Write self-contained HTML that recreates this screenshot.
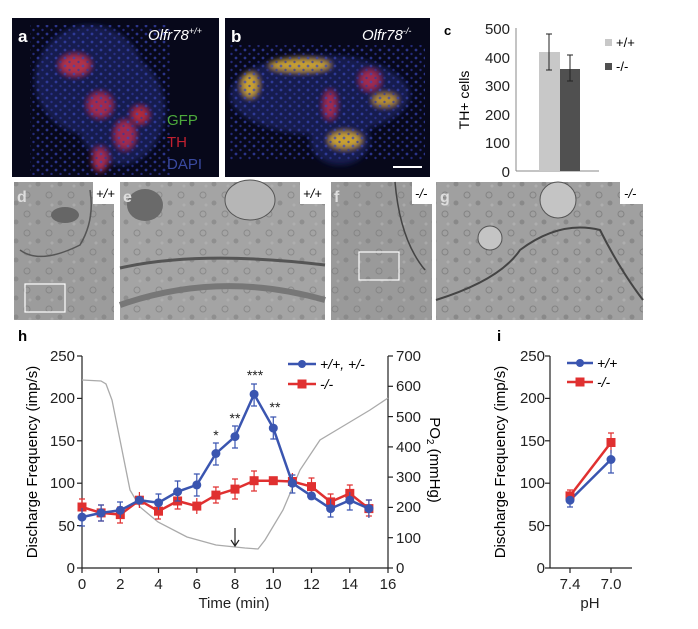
<!DOCTYPE html>
<html><head><meta charset="utf-8"><style>
html,body{margin:0;padding:0;background:#fff;}
svg{display:block;font-family:"Liberation Sans",Arial,sans-serif;}
</style></head><body>
<svg width="698" height="629" viewBox="0 0 698 629" xmlns="http://www.w3.org/2000/svg">
<defs>
<pattern id="dots" width="9" height="8" patternUnits="userSpaceOnUse">
<circle cx="2" cy="2" r="1.4" fill="#3a47b8"/><circle cx="6.5" cy="6" r="1.2" fill="#3038a0"/>
</pattern>
<pattern id="em" width="22" height="19" patternUnits="userSpaceOnUse">
<circle cx="5" cy="5" r="3" fill="none" stroke="#707070" stroke-width="1"/>
<circle cx="16" cy="13" r="2.5" fill="#7a7a7a"/>
<circle cx="8" cy="15" r="1.5" fill="#b8b8b8"/>
</pattern>
<filter id="bl"><feGaussianBlur stdDeviation="3"/></filter>
</defs>
<!-- panel a -->
<rect x="12" y="18" width="207" height="159" fill="#07081a"/>
<g filter="url(#bl)">
<ellipse cx="90" cy="80" rx="55" ry="55" fill="#141a50"/>
<ellipse cx="120" cy="110" rx="45" ry="55" fill="#141a50"/>
<ellipse cx="75" cy="65" rx="15" ry="10" fill="#b0304a"/>
<ellipse cx="100" cy="105" rx="12" ry="12" fill="#a02c50"/>
<ellipse cx="125" cy="135" rx="10" ry="14" fill="#a02c50"/>
<ellipse cx="100" cy="160" rx="8" ry="12" fill="#a02c50"/>
<ellipse cx="140" cy="115" rx="8" ry="8" fill="#b02a3a"/>
</g>
<rect x="30" y="25" width="140" height="150" fill="url(#dots)" opacity="0.7"/>
<text x="18" y="42" font-size="17" font-weight="bold" fill="#fff">a</text>
<text x="148" y="40" font-size="15" font-style="italic" fill="#fff">Olfr78<tspan font-size="9" dy="-6">+/+</tspan></text>
<text x="167" y="125" font-size="15" fill="#4caa3c">GFP</text>
<text x="167" y="147" font-size="15" fill="#c02030">TH</text>
<text x="167" y="169" font-size="15" fill="#3a4aa0">DAPI</text>
<!-- panel b -->
<rect x="225" y="18" width="205" height="159" fill="#07081a"/>
<g filter="url(#bl)">
<ellipse cx="320" cy="95" rx="90" ry="40" fill="#141a50"/>
<ellipse cx="340" cy="140" rx="30" ry="25" fill="#141a50"/>
<ellipse cx="300" cy="65" rx="30" ry="6" fill="#c8a030"/>
<ellipse cx="250" cy="85" rx="8" ry="12" fill="#c8a030"/>
<ellipse cx="345" cy="140" rx="16" ry="8" fill="#c8a030"/>
<ellipse cx="385" cy="100" rx="12" ry="6" fill="#b89030"/>
<ellipse cx="370" cy="80" rx="10" ry="10" fill="#a02c50"/>
<ellipse cx="330" cy="105" rx="6" ry="14" fill="#a02c50"/>
</g>
<rect x="230" y="45" width="195" height="115" fill="url(#dots)" opacity="0.7"/>
<line x1="393" y1="167" x2="422" y2="167" stroke="#fff" stroke-width="2"/>
<text x="231" y="42" font-size="17" font-weight="bold" fill="#fff">b</text>
<text x="362" y="40" font-size="15" font-style="italic" fill="#fff">Olfr78<tspan font-size="9" dy="-6">-/-</tspan></text>
<!-- panel c -->
<text x="444" y="35" font-size="13" font-weight="bold">c</text>
<line x1="516" y1="28" x2="516" y2="171" stroke="#888" stroke-width="1"/>
<line x1="516" y1="171" x2="599" y2="171" stroke="#888" stroke-width="1"/>
<g font-size="15" fill="#222" text-anchor="end">
<text x="510" y="34">500</text><text x="510" y="63">400</text><text x="510" y="91">300</text>
<text x="510" y="120">200</text><text x="510" y="148">100</text><text x="510" y="177">0</text>
</g>
<text transform="translate(469,100) rotate(-90)" font-size="14" text-anchor="middle">TH+ cells</text>
<rect x="539" y="52" width="21" height="119" fill="#c8c8c8"/>
<rect x="560" y="69" width="20" height="102" fill="#505050"/>
<g stroke="#222" stroke-width="1">
<line x1="549" y1="34" x2="549" y2="70"/><line x1="546" y1="34" x2="552" y2="34"/><line x1="546" y1="70" x2="552" y2="70"/>
<line x1="570" y1="55" x2="570" y2="81"/><line x1="567" y1="55" x2="573" y2="55"/><line x1="567" y1="81" x2="573" y2="81"/>
</g>
<rect x="605" y="39" width="7" height="7" fill="#c8c8c8"/><text x="616" y="47" font-size="13">+/+</text>
<rect x="605" y="63" width="7" height="7" fill="#505050"/><text x="616" y="71" font-size="13">-/-</text>
<!-- EM panels -->
<g>
<rect x="14" y="182" width="100" height="138" fill="#9c9c9c"/>
<rect x="120" y="182" width="205" height="138" fill="#a4a4a4"/>
<rect x="331" y="182" width="101" height="138" fill="#9a9a9a"/>
<rect x="436" y="182" width="207" height="138" fill="#a0a0a0"/>
<rect x="14" y="182" width="100" height="138" fill="url(#em)" opacity="0.5"/>
<rect x="120" y="182" width="205" height="138" fill="url(#em)" opacity="0.5"/>
<rect x="331" y="182" width="101" height="138" fill="url(#em)" opacity="0.5"/>
<rect x="436" y="182" width="207" height="138" fill="url(#em)" opacity="0.6"/>
<path d="M20,250 Q40,265 80,245 Q95,220 90,190" fill="none" stroke="#555" stroke-width="1.5"/>
<ellipse cx="65" cy="215" rx="14" ry="8" fill="#666"/>
<rect x="25" y="284" width="40" height="28" fill="none" stroke="#fff" stroke-width="1.2"/>
<ellipse cx="145" cy="205" rx="18" ry="16" fill="#6a6a6a"/>
<ellipse cx="250" cy="200" rx="25" ry="20" fill="#b6b6b6" stroke="#555"/>
<path d="M120,268 Q200,250 325,265" fill="none" stroke="#555" stroke-width="3"/>
<path d="M120,305 Q220,270 325,300" fill="none" stroke="#777" stroke-width="6"/>
<path d="M395,182 Q400,240 425,270" fill="none" stroke="#444" stroke-width="1.5"/>
<rect x="359" y="252" width="40" height="28" fill="none" stroke="#fff" stroke-width="1.2"/>
<path d="M436,300 Q500,280 520,250 Q560,220 600,230 Q620,270 643,300" fill="none" stroke="#444" stroke-width="2"/>
<circle cx="558" cy="200" r="18" fill="#c4c4c4" stroke="#555"/>
<circle cx="490" cy="238" r="12" fill="#c4c4c4" stroke="#555"/>
<rect x="93" y="182" width="21" height="22" fill="#fff"/><text x="96" y="198" font-size="13" font-style="italic">+/+</text>
<rect x="300" y="182" width="25" height="22" fill="#fff"/><text x="303" y="198" font-size="13" font-style="italic">+/+</text>
<rect x="412" y="182" width="20" height="22" fill="#fff"/><text x="415" y="198" font-size="13" font-style="italic">-/-</text>
<rect x="620" y="182" width="23" height="22" fill="#fff"/><text x="624" y="198" font-size="13" font-style="italic">-/-</text>
<text x="17" y="202" font-size="16" font-weight="bold" fill="#ddd">d</text>
<text x="123" y="202" font-size="16" font-weight="bold" fill="#ddd">e</text>
<text x="334" y="202" font-size="16" font-weight="bold" fill="#ddd">f</text>
<text x="440" y="202" font-size="16" font-weight="bold" fill="#ddd">g</text>
</g>
<!-- panel h -->
<text x="18" y="341" font-size="15" font-weight="bold">h</text>
<g stroke="#222" stroke-width="1.2" fill="none">
<line x1="82" y1="356" x2="82" y2="568"/><line x1="82" y1="568" x2="388" y2="568"/><line x1="388" y1="356" x2="388" y2="568"/>
</g>
<g stroke="#222" stroke-width="1.2">
<line x1="77" y1="356" x2="82" y2="356"/><line x1="77" y1="398.4" x2="82" y2="398.4"/><line x1="77" y1="440.8" x2="82" y2="440.8"/><line x1="77" y1="483.2" x2="82" y2="483.2"/><line x1="77" y1="525.6" x2="82" y2="525.6"/><line x1="77" y1="568" x2="82" y2="568"/>
<line x1="388" y1="356" x2="393" y2="356"/><line x1="388" y1="386.3" x2="393" y2="386.3"/><line x1="388" y1="416.6" x2="393" y2="416.6"/><line x1="388" y1="446.9" x2="393" y2="446.9"/><line x1="388" y1="477.1" x2="393" y2="477.1"/><line x1="388" y1="507.4" x2="393" y2="507.4"/><line x1="388" y1="537.7" x2="393" y2="537.7"/><line x1="388" y1="568" x2="393" y2="568"/>
<line x1="82" y1="568" x2="82" y2="573"/><line x1="120.3" y1="568" x2="120.3" y2="573"/><line x1="158.5" y1="568" x2="158.5" y2="573"/><line x1="196.8" y1="568" x2="196.8" y2="573"/><line x1="235" y1="568" x2="235" y2="573"/><line x1="273.3" y1="568" x2="273.3" y2="573"/><line x1="311.5" y1="568" x2="311.5" y2="573"/><line x1="349.8" y1="568" x2="349.8" y2="573"/><line x1="388" y1="568" x2="388" y2="573"/>
</g>
<g font-size="15" fill="#222" text-anchor="end">
<text x="75" y="361">250</text><text x="75" y="403">200</text><text x="75" y="446">150</text><text x="75" y="488">100</text><text x="75" y="531">50</text><text x="75" y="573">0</text>
</g>
<g font-size="15" fill="#222">
<text x="396" y="361">700</text><text x="396" y="391">600</text><text x="396" y="422">500</text><text x="396" y="452">400</text><text x="396" y="482">300</text><text x="396" y="512">200</text><text x="396" y="543">100</text><text x="396" y="573">0</text>
</g>
<g font-size="15" fill="#222" text-anchor="middle">
<text x="82" y="589">0</text><text x="120.3" y="589">2</text><text x="158.5" y="589">4</text><text x="196.8" y="589">6</text><text x="235" y="589">8</text><text x="273.3" y="589">10</text><text x="311.5" y="589">12</text><text x="349.8" y="589">14</text><text x="388" y="589">16</text>
<text x="234" y="608">Time (min)</text>
</g>
<text transform="translate(37,462) rotate(-90)" font-size="15" text-anchor="middle">Discharge Frequency (imp/s)</text>
<text transform="translate(430,460) rotate(90)" font-size="15" text-anchor="middle">PO<tspan font-size="10" dy="3">2</tspan><tspan dy="-3"> (mmHg)</tspan></text>
<polyline fill="none" stroke="#aaa" stroke-width="1.3" points="82,380 101,381 106,384 112,400 120,440 130,490 140,507 158,522 187,537 216,545 245,548 258,549 265,540 283,510 300,470 320,440 345,425 370,410 388,398"/>
<path d="M235,528 L235,545 M231,540 L235,546 L239,540" stroke="#222" fill="none" stroke-width="1.2"/>
<g stroke="#e03030" stroke-width="1.2" fill="none">
<path d="M82,499v16M79,499h6M79,515h6 M101.1,505v16M98,505h6M98,521h6 M120.3,507v16M117,507h6M117,523h6 M139.4,492v16 M158.5,503v16M155,503h6M155,519h6 M177.6,493v16M174.6,493h6M174.6,509h6 M196.8,498v16 M215.9,487v16M212.9,487h6M212.9,503h6 M235,479v20M232,479h6M232,499h6 M254.1,471v20M251,471h6M251,491h6 M292.4,473v16 M311.5,478v16M308.5,478h6M308.5,494h6 M330.6,494v16M327.6,494h6M327.6,510h6 M349.8,485v16M346.8,485h6M346.8,501h6 M368.9,500v16M365.9,500h6M365.9,516h6"/>
</g>
<polyline fill="none" stroke="#e03030" stroke-width="2.5" points="82,507 101.1,512.9 120.3,514.6 139.4,500.2 158.5,511.2 177.6,501 196.8,506.1 215.9,495.1 235,489.1 254.1,480.7 273.3,480.7 292.4,481.5 311.5,486.6 330.6,501.9 349.8,493.4 368.9,508.6"/>
<g fill="#e03030">
<rect x="77.5" y="502.5" width="9" height="9"/><rect x="96.6" y="508.4" width="9" height="9"/><rect x="115.8" y="510.1" width="9" height="9"/><rect x="134.9" y="495.7" width="9" height="9"/><rect x="154" y="506.7" width="9" height="9"/><rect x="173.1" y="496.5" width="9" height="9"/><rect x="192.3" y="501.6" width="9" height="9"/><rect x="211.4" y="490.6" width="9" height="9"/><rect x="230.5" y="484.6" width="9" height="9"/><rect x="249.6" y="476.2" width="9" height="9"/><rect x="268.8" y="476.2" width="9" height="9"/><rect x="287.9" y="477" width="9" height="9"/><rect x="307" y="482.1" width="9" height="9"/><rect x="326.1" y="497.4" width="9" height="9"/><rect x="345.3" y="488.9" width="9" height="9"/><rect x="364.4" y="504.1" width="9" height="9"/>
</g>
<g stroke="#3a55b0" stroke-width="1.2" fill="none">
<path d="M82,508v18M79,526h6 M101.1,505v16M98,505h6M98,521h6 M120.3,502v16M117,502h6 M158.5,494v16M155.5,494h6 M177.6,481v20M174.6,481h6M174.6,501h6 M196.8,474v22M193.8,474h6M193.8,496h6 M215.9,443v22M212.9,443h6M212.9,465h6 M235,426v22M232,426h6M232,448h6 M254.1,384v22M251,384h6M251,406h6 M273.3,417v22M270.3,417h6M270.3,439h6 M292.4,475v18M289.4,475h6M289.4,493h6 M330.6,499v18M327.6,517h6 M349.8,492v18M346.8,510h6 M368.9,500v18M365.9,500h6"/>
</g>
<polyline fill="none" stroke="#3a55b0" stroke-width="2.5" points="82,517.1 101.1,512.9 120.3,510.3 139.4,500.2 158.5,502.7 177.6,491.7 196.8,484.9 215.9,453.5 235,436.6 254.1,394.2 273.3,428.1 292.4,483.2 311.5,495.9 330.6,508.6 349.8,500.2 368.9,508.6"/>
<g fill="#3a55b0">
<circle cx="82" cy="517.1" r="4.5"/><circle cx="101.1" cy="512.9" r="4.5"/><circle cx="120.3" cy="510.3" r="4.5"/><circle cx="139.4" cy="500.2" r="4.5"/><circle cx="158.5" cy="502.7" r="4.5"/><circle cx="177.6" cy="491.7" r="4.5"/><circle cx="196.8" cy="484.9" r="4.5"/><circle cx="215.9" cy="453.5" r="4.5"/><circle cx="235" cy="436.6" r="4.5"/><circle cx="254.1" cy="394.2" r="4.5"/><circle cx="273.3" cy="428.1" r="4.5"/><circle cx="292.4" cy="483.2" r="4.5"/><circle cx="311.5" cy="495.9" r="4.5"/><circle cx="330.6" cy="508.6" r="4.5"/><circle cx="349.8" cy="500.2" r="4.5"/><circle cx="368.9" cy="508.6" r="4.5"/>
</g>
<g font-size="14" fill="#222" text-anchor="middle">
<text x="216" y="440">*</text><text x="235" y="423">**</text><text x="255" y="380">***</text><text x="275" y="412">**</text>
</g>
<line x1="288" y1="364" x2="316" y2="364" stroke="#3a55b0" stroke-width="2.5"/><circle cx="302" cy="364" r="4" fill="#3a55b0"/>
<text x="320" y="369" font-size="14" font-style="italic">+/+, +/-</text>
<line x1="288" y1="384" x2="316" y2="384" stroke="#e03030" stroke-width="2.5"/><rect x="297.5" y="379.5" width="9" height="9" fill="#e03030"/>
<text x="320" y="389" font-size="14" font-style="italic">-/-</text>
<!-- panel i -->
<text x="497" y="341" font-size="15" font-weight="bold">i</text>
<g stroke="#222" stroke-width="1.2">
<line x1="550" y1="356" x2="550" y2="568"/><line x1="550" y1="568" x2="632" y2="568"/>
<line x1="545" y1="356" x2="550" y2="356"/><line x1="545" y1="398.4" x2="550" y2="398.4"/><line x1="545" y1="440.8" x2="550" y2="440.8"/><line x1="545" y1="483.2" x2="550" y2="483.2"/><line x1="545" y1="525.6" x2="550" y2="525.6"/><line x1="545" y1="568" x2="550" y2="568"/>
<line x1="570" y1="568" x2="570" y2="573"/><line x1="611" y1="568" x2="611" y2="573"/>
</g>
<g font-size="15" fill="#222" text-anchor="end">
<text x="545" y="361">250</text><text x="545" y="403">200</text><text x="545" y="446">150</text><text x="545" y="488">100</text><text x="545" y="531">50</text><text x="545" y="573">0</text>
</g>
<g font-size="15" fill="#222" text-anchor="middle">
<text x="570" y="589">7.4</text><text x="611" y="589">7.0</text><text x="590" y="608">pH</text>
</g>
<text transform="translate(505,462) rotate(-90)" font-size="15" text-anchor="middle">Discharge Frequency (imp/s)</text>
<g stroke="#e03030" stroke-width="1.2"><path d="M570,490v12M567,490h6 M611,433v20M608,433h6"/></g>
<g stroke="#3a55b0" stroke-width="1.2"><path d="M570,494v13M567,507h6 M611,450v23M608,473h6"/></g>
<line x1="570" y1="495.9" x2="611" y2="442.5" stroke="#e03030" stroke-width="2.5"/>
<line x1="570" y1="500.2" x2="611" y2="459.5" stroke="#3a55b0" stroke-width="2.5"/>
<rect x="565.5" y="491.4" width="9" height="9" fill="#e03030"/><rect x="606.5" y="438" width="9" height="9" fill="#e03030"/>
<circle cx="570" cy="500.2" r="4.5" fill="#3a55b0"/><circle cx="611" cy="459.5" r="4.5" fill="#3a55b0"/>
<line x1="567" y1="363" x2="593" y2="363" stroke="#3a55b0" stroke-width="2.5"/><circle cx="580" cy="363" r="4" fill="#3a55b0"/>
<text x="597" y="368" font-size="14" font-style="italic">+/+</text>
<line x1="567" y1="382" x2="593" y2="382" stroke="#e03030" stroke-width="2.5"/><rect x="575.5" y="377.5" width="9" height="9" fill="#e03030"/>
<text x="597" y="387" font-size="14" font-style="italic">-/-</text>
</svg>
</body></html>
